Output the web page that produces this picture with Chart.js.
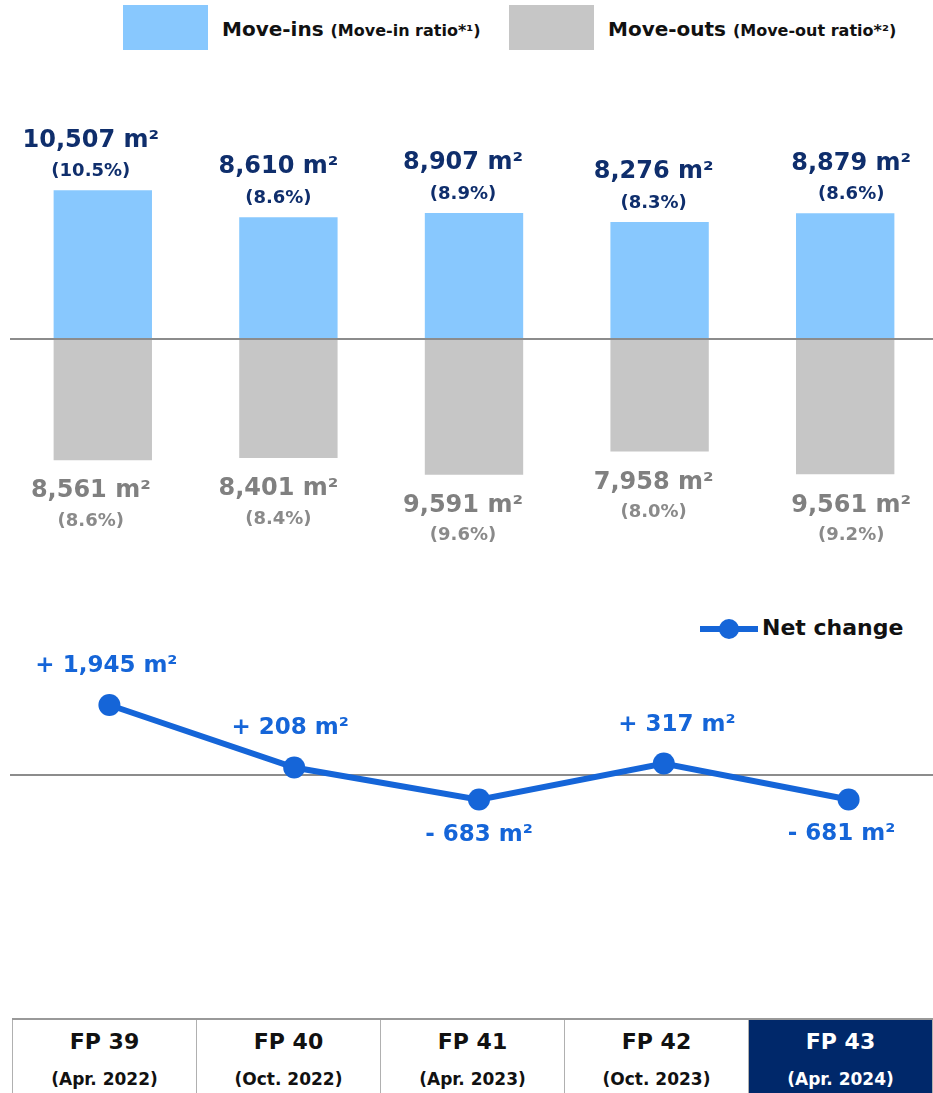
<!DOCTYPE html>
<html>
<head>
<meta charset="utf-8">
<script src="https://cdn.jsdelivr.net/npm/chart.js@4.4.1/dist/chart.umd.min.js"></script>
<style>
  html, body { margin: 0; padding: 0; background: #fff; }
  body { width: 933px; height: 1093px; position: relative; overflow: hidden; font-family: "DejaVu Sans", sans-serif; }
  .box { position: absolute; top: 5px; width: 85px; height: 45px; }
  .leg { position: absolute; top: 17px; font-weight: bold; font-size: 20px; color: #111; white-space: nowrap; }
  .leg small { font-size: 16px; }
  #barCanvas { position: absolute; top: 60px; left: 0; }
  #lineCanvas { position: absolute; top: 600px; left: 0; }
  #netLegend { position: absolute; top: 614px; left: 700px; width: 230px; height: 30px; }
  #netLegend .seg { position: absolute; left: 0; top: 12px; width: 58px; height: 6px; background: #1565d8; }
  #netLegend .dot { position: absolute; left: 19px; top: 5px; width: 20px; height: 20px; border-radius: 50%; background: #1565d8; }
  #netLegend span { position: absolute; left: 62px; top: 1px; font-weight: bold; font-size: 22px; color: #111; }
  #periods { position: absolute; top: 1018px; left: 12px; border-collapse: collapse; }
  #periods td { width: 184px; height: 82px; border: 1px solid #b0b0b0; border-top: 2px solid #999; text-align: center; vertical-align: top; font-weight: bold; color: #111; padding: 0; }
  #periods td .fp { display: block; font-size: 22px; margin-top: 9px; }
  #periods td .mo { display: block; font-size: 17px; margin-top: 15px; }
  #periods td.latest { background: #00286a; color: #fff; }
</style>
</head>
<body>

<div class="box" style="left:123px;background:#88c8fe"></div>
<div class="leg" style="left:222px">Move-ins <small>(Move-in ratio*¹)</small></div>
<div class="box" style="left:509px;background:#c6c6c6"></div>
<div class="leg" style="left:608px">Move-outs <small>(Move-out ratio*²)</small></div>

<canvas id="barCanvas" width="938" height="540"></canvas>

<div id="netLegend"><div class="seg"></div><div class="dot"></div><span>Net change</span></div>
<canvas id="lineCanvas" width="941" height="400"></canvas>

<table id="periods"><tr id="periodRow"></tr></table>

<script>
// Periodos e valores (m2 e % da area)
const periods = ['FP 39', 'FP 40', 'FP 41', 'FP 42', 'FP 43'];
const periodMonths = ['(Apr. 2022)', '(Oct. 2022)', '(Apr. 2023)', '(Oct. 2023)', '(Apr. 2024)'];
const moveIns = [10507, 8610, 8907, 8276, 8879];
const moveInRatio = [10.5, 8.6, 8.9, 8.3, 8.6];
const moveOuts = [8561, 8401, 9591, 7958, 9561];
const moveOutRatio = [8.6, 8.4, 9.6, 8.0, 9.2];
const netChange = [1945, 208, -683, 317, -681];

const BLUE_BAR = '#88c8fe';
const GRAY_BAR = '#c6c6c6';
const NAVY = '#0f2e6c';
const GRAY_TXT = '#808080';
const LINE_BLUE = '#1565d8';

const fmt = v => Math.abs(v).toLocaleString('en-US');
const pct = v => '(' + v.toFixed(1) + '%)';

// pequenos ajustes horizontais dos rotulos
const labelNudge = [-12, -10, -11, -6, 6];
const netNudge = [-3, -4, 0, 13, -7];

function zeroLine(chart, fromX) {
  const ctx = chart.ctx;
  const y = Math.round(chart.scales.y.getPixelForValue(0));
  ctx.save();
  ctx.strokeStyle = '#8c8c8c';
  ctx.lineWidth = 2;
  ctx.beginPath();
  ctx.moveTo(fromX, y);
  ctx.lineTo(chart.width, y);
  ctx.stroke();
  ctx.restore();
}

const barLabels = {
  id: 'barLabels',
  afterDatasetsDraw(chart) {
    zeroLine(chart, 10);
    const ctx = chart.ctx;
    ctx.save();
    ctx.textAlign = 'center';
    ctx.textBaseline = 'middle';
    chart.getDatasetMeta(0).data.forEach((bar, i) => {
      const x = bar.x + labelNudge[i];
      ctx.fillStyle = NAVY;
      ctx.font = 'bold 24px "DejaVu Sans"';
      ctx.fillText(fmt(moveIns[i]) + ' m²', x, bar.y - 50);
      ctx.font = 'bold 18px "DejaVu Sans"';
      ctx.fillText(pct(moveInRatio[i]), x, bar.y - 19);
    });
    chart.getDatasetMeta(1).data.forEach((bar, i) => {
      const x = bar.x + labelNudge[i];
      ctx.fillStyle = GRAY_TXT;
      ctx.font = 'bold 24px "DejaVu Sans"';
      ctx.fillText(fmt(moveOuts[i]) + ' m²', x, bar.y + 31);
      ctx.font = 'bold 18px "DejaVu Sans"';
      ctx.fillStyle = '#8a8a8a';
      ctx.fillText(pct(moveOutRatio[i]), x, bar.y + 61);
    });
    ctx.restore();
  }
};

new Chart(document.getElementById('barCanvas'), {
  type: 'bar',
  data: {
    labels: periods,
    datasets: [
      { label: 'Move-ins', data: moveIns, backgroundColor: BLUE_BAR },
      { label: 'Move-outs', data: moveOuts.map(v => -v), backgroundColor: GRAY_BAR }
    ]
  },
  options: {
    responsive: false,
    animation: false,
    devicePixelRatio: 1,
    layout: { autoPadding: false, padding: { left: 10, right: 0, top: 0, bottom: 0 } },
    datasets: { bar: { categoryPercentage: 1, barPercentage: 0.53 } },
    plugins: { legend: { display: false }, tooltip: { enabled: false } },
    scales: {
      x: { display: false, stacked: true },
      y: { display: false, stacked: true, min: -18445, max: 19717 }
    }
  },
  plugins: [barLabels]
});

const lineLabels = {
  id: 'lineLabels',
  beforeDatasetsDraw(chart) { zeroLine(chart, 10); },
  afterDatasetsDraw(chart) {
    const ctx = chart.ctx;
    ctx.save();
    ctx.textAlign = 'center';
    ctx.textBaseline = 'middle';
    ctx.fillStyle = LINE_BLUE;
    ctx.font = 'bold 23px "DejaVu Sans"';
    chart.getDatasetMeta(0).data.forEach((pt, i) => {
      const v = netChange[i];
      const txt = (v >= 0 ? '+ ' : '- ') + fmt(v) + ' m²';
      ctx.fillText(txt, pt.x + netNudge[i], v >= 0 ? pt.y - 39 : pt.y + 35);
    });
    ctx.restore();
  }
};

new Chart(document.getElementById('lineCanvas'), {
  type: 'line',
  data: {
    labels: periods,
    datasets: [{
      label: 'Net change',
      data: netChange,
      borderColor: LINE_BLUE,
      backgroundColor: LINE_BLUE,
      borderWidth: 6,
      pointRadius: 11,
      pointBackgroundColor: LINE_BLUE,
      pointBorderWidth: 0,
      tension: 0,
      clip: false
    }]
  },
  options: {
    responsive: false,
    animation: false,
    devicePixelRatio: 1,
    layout: { autoPadding: false, padding: { left: 17, right: 0, top: 0, bottom: 0 } },
    plugins: { legend: { display: false }, tooltip: { enabled: false } },
    scales: {
      x: { display: false, offset: true },
      y: { display: false, min: -6250, max: 4861 }
    }
  },
  plugins: [lineLabels]
});

// Tabela de periodos (ultimo periodo em destaque)
const row = document.getElementById('periodRow');
periods.forEach((p, i) => {
  const td = document.createElement('td');
  if (i === periods.length - 1) td.className = 'latest';
  td.innerHTML = `<span class="fp">${p}</span><span class="mo">${periodMonths[i]}</span>`;
  row.appendChild(td);
});
</script>
</body>
</html>
